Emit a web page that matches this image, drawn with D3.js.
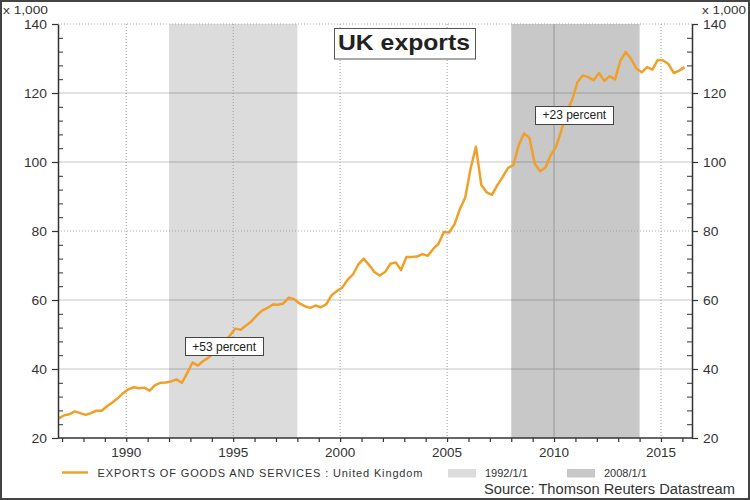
<!DOCTYPE html>
<html><head><meta charset="utf-8">
<script src="https://cdn.jsdelivr.net/npm/d3@7"></script>
<style>
body{margin:0;background:#fff}
svg{display:block}
text{font-family:"Liberation Sans",Arial,Helvetica,sans-serif}
</style>
</head><body>
<svg id="chart" width="750" height="500"></svg>
<script>
// ---- data ----
const seriesName = "EXPORTS OF GOODS AND SERVICES : United Kingdom";
const firstQuarter = [1986, 4]; // year, quarter of first observation
const exportsValues = [
  25.7,26.6,26.9,27.7,27.2,26.7,27.2,27.9,27.9,29.2,
  30.3,31.5,33.0,34.1,34.7,34.4,34.6,33.7,35.3,36.0,
  36.1,36.4,37.0,36.0,38.8,41.9,41.0,42.3,43.3,44.6,
  46.4,48.0,49.7,51.7,51.4,52.6,53.8,55.5,56.9,57.7,
  58.7,58.6,59.0,60.7,60.2,59.0,58.2,57.7,58.4,57.9,
  58.7,61.4,62.6,63.6,65.9,67.4,70.3,72.0,70.2,68.1,
  67.1,68.1,70.5,70.9,68.7,72.5,72.5,72.6,73.3,72.8,
  74.8,76.3,79.7,79.6,82.0,86.4,89.7,98.1,104.4,93.3,
  91.2,90.5,93.3,95.7,98.3,99.1,104.9,108.3,107.0,99.5,
  97.3,98.4,102.0,104.5,109.3,114.6,118.1,123.2,125.1,124.6,
  123.7,125.8,123.5,124.9,123.9,129.3,131.9,129.9,127.1,126.0,
  127.5,126.8,129.6,129.4,128.4,125.8,126.5,127.5
];
const yTicks = [20, 40, 60, 80, 100, 120, 140];
const yMinorStep = 4;
const xTicks = [1990, 1995, 2000, 2005, 2010, 2015];
const bandLabels = ["1992/1/1", "2008/1/1"];
const bandStarts = [1992, 2008];
const bandEnds = [1998, 2014];
const annotationTexts = ["+53 percent", "+23 percent"];
const annotationYears = [1994.58, 2010.95];
const annotationValues = [46.6, 113.6];
const titleText = "UK exports";
const unitText = "x 1,000";
const sourceText = "Source: Thomson Reuters Datastream";

// ---- build ----
const dates = exportsValues.map((v, i) => {
  const q = firstQuarter[1] - 1 + i;
  return firstQuarter[0] + Math.floor(q / 4) + (q % 4) * 0.25 + 0.1;
});
const data = exportsValues.map((v, i) => ({t: dates[i], v}));

const svg = d3.select("#chart");
const L = 58, R = 692, T = 24, B = 438;
const x = d3.scaleLinear().domain([1986.81, 2016.45]).range([L, R]);
const y = d3.scaleLinear().domain([20, 140]).range([B, T]);
const lineColor = "#f0a028";
const bandColors = ["#dcdcdc", "#c8c8c8"];
const textColor = "#333";

// bands
bandStarts.forEach((s, i) => {
  svg.append("rect")
    .attr("x", x(s)).attr("y", T)
    .attr("width", x(bandEnds[i]) - x(s)).attr("height", B - T)
    .attr("fill", bandColors[i]);
});

// horizontal gridlines
yTicks.forEach(t => {
  if (t === 20) return;
  const dotted = (t === 140 || t === 80);
  svg.append("line")
    .attr("x1", L).attr("x2", R).attr("y1", y(t)).attr("y2", y(t))
    .attr("stroke", dotted ? "#999" : "#000")
    .attr("stroke-opacity", dotted ? 0.8 : 0.15)
    .attr("stroke-width", dotted ? 1 : 1.5)
    .attr("stroke-dasharray", dotted ? "1,2" : null);
});

// vertical gridlines
xTicks.forEach(t => {
  const inDark = t > bandStarts[1] && t < bandEnds[1];
  svg.append("line")
    .attr("x1", x(t)).attr("x2", x(t)).attr("y1", T).attr("y2", B)
    .attr("stroke", inDark ? "#999" : "#999")
    .attr("stroke-width", 1)
    .attr("stroke-dasharray", inDark ? null : "1,2");
});

// series line
svg.append("path").datum(data)
  .attr("fill", "none")
  .attr("stroke", lineColor)
  .attr("stroke-width", 2.5)
  .attr("stroke-linejoin", "round")
  .attr("d", d3.line().x(d => x(d.t)).y(d => y(d.v)));

// axes
const axisColor = "#333";
function styleAxis(g) {
  g.select(".domain").attr("stroke", axisColor).attr("stroke-width", 1.5);
  g.selectAll(".tick line").attr("stroke", axisColor).attr("stroke-width", 1.2);
}
const minorY = d3.range(20, 140.001, yMinorStep).filter(v => !yTicks.includes(v));

// left axis: majors outward, minors inward
const gl = svg.append("g").attr("transform", `translate(${L},0)`)
  .call(d3.axisLeft(y).tickValues(yTicks).tickSize(6).tickSizeOuter(0).tickFormat(""));
styleAxis(gl);
svg.append("g").attr("transform", `translate(${L},0)`)
  .call(d3.axisRight(y).tickValues(minorY).tickSize(5).tickFormat(""))
  .call(g => { g.select(".domain").remove(); g.selectAll(".tick line").attr("stroke", axisColor); });

// right axis
const gr = svg.append("g").attr("transform", `translate(${R},0)`)
  .call(d3.axisRight(y).tickValues(yTicks).tickSize(6).tickSizeOuter(0).tickFormat(""));
styleAxis(gr);
svg.append("g").attr("transform", `translate(${R},0)`)
  .call(d3.axisLeft(y).tickValues(minorY).tickSize(5).tickFormat(""))
  .call(g => { g.select(".domain").remove(); g.selectAll(".tick line").attr("stroke", axisColor); });

// y labels (stretched like original)
yTicks.forEach(t => {
  const s = String(t);
  svg.append("text").attr("x", L - 11).attr("y", y(t) + 4.5)
    .attr("text-anchor", "end").attr("font-size", 12).attr("fill", textColor)
    .attr("textLength", s.length * 7.7).attr("lengthAdjust", "spacingAndGlyphs")
    .text(s);
  svg.append("text").attr("x", R + 11).attr("y", y(t) + 4.5)
    .attr("text-anchor", "start").attr("font-size", 12).attr("fill", textColor)
    .attr("textLength", s.length * 7.7).attr("lengthAdjust", "spacingAndGlyphs")
    .text(s);
});
svg.append("text").attr("x", 3).attr("y", 14).attr("font-size", 11.5).attr("fill", textColor)
  .attr("textLength", 45).attr("lengthAdjust", "spacingAndGlyphs").text(unitText);
svg.append("text").attr("x", 702).attr("y", 14).attr("font-size", 11.5).attr("fill", textColor)
  .attr("textLength", 44).attr("lengthAdjust", "spacingAndGlyphs").text(unitText);

// bottom axis
const years = d3.range(1987, 2017);
const gb = svg.append("g").attr("transform", `translate(0,${B})`)
  .call(d3.axisBottom(x).tickValues(years).tickSize(4).tickSizeOuter(0).tickFormat(""));
styleAxis(gb);
gb.select(".domain").attr("d", `M${L},0H${R}`);
xTicks.forEach(t => {
  svg.append("text").attr("x", x(t)).attr("y", 457)
    .attr("text-anchor", "middle").attr("font-size", 13.5).attr("fill", textColor)
    .text(t);
});

// title box
const tg = svg.append("g");
tg.append("rect").attr("x", 334.5).attr("y", 28.5).attr("width", 141).attr("height", 30.5)
  .attr("fill", "#fff").attr("stroke", "#555").attr("stroke-width", 1);
tg.append("text").attr("x", 338).attr("y", 50).attr("font-size", 22).attr("font-weight", "bold")
  .attr("fill", "#222").attr("textLength", 132).attr("lengthAdjust", "spacingAndGlyphs")
  .text(titleText);

// annotations
annotationTexts.forEach((txt, i) => {
  const cx = x(annotationYears[i]), cy = y(annotationValues[i]);
  svg.append("rect").attr("x", Math.round(cx - 39) + 0.5).attr("y", Math.round(cy - 9) + 0.5)
    .attr("width", 78).attr("height", 18)
    .attr("fill", "#fff").attr("stroke", "#444").attr("stroke-width", 1);
  svg.append("text").attr("x", cx).attr("y", cy + 4.3)
    .attr("text-anchor", "middle").attr("font-size", 12).attr("fill", "#222")
    .text(txt);
});

// legend
svg.append("line").attr("x1", 62).attr("x2", 88).attr("y1", 472.5).attr("y2", 472.5)
  .attr("stroke", lineColor).attr("stroke-width", 2.5);
svg.append("text").attr("x", 97.5).attr("y", 476.5).attr("font-size", 11).attr("fill", textColor)
  .attr("textLength", 325).attr("lengthAdjust", "spacing").text(seriesName);
const legX = [448, 567];
bandLabels.forEach((lab, i) => {
  svg.append("rect").attr("x", legX[i]).attr("y", 469).attr("width", 28).attr("height", 8.5)
    .attr("fill", bandColors[i]);
  svg.append("text").attr("x", legX[i] + 37).attr("y", 477).attr("font-size", 11)
    .attr("fill", textColor).text(lab);
});

// source
svg.append("text").attr("x", 484).attr("y", 494).attr("font-size", 14).attr("fill", textColor)
  .attr("textLength", 251).attr("lengthAdjust", "spacingAndGlyphs").text(sourceText);

// outer frame
svg.append("rect").attr("x", 1).attr("y", 1).attr("width", 748).attr("height", 498)
  .attr("fill", "none").attr("stroke", "#444").attr("stroke-width", 2);
</script>
</body></html>
